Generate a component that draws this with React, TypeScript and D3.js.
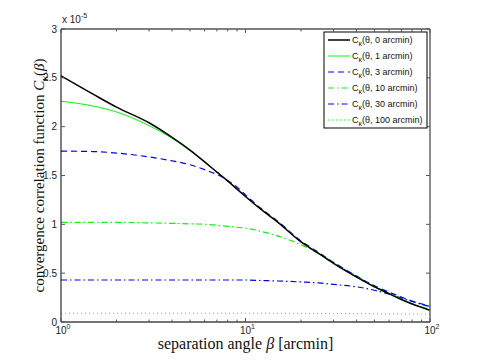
import React, { useEffect, useRef } from 'react';
import * as d3 from 'd3';

// separation angle beta [arcmin]
const betas = [1, 1.5, 2, 3, 4, 5, 6, 7, 8, 9, 10, 12, 15, 20, 25, 30, 40, 50, 60, 70, 80, 90, 100];

// C_kappa values in units of 1e-5
const c0 = [2.52, 2.33, 2.2, 2.04, 1.89, 1.76, 1.64, 1.535, 1.445, 1.36, 1.285, 1.16, 1.02, 0.82, 0.7, 0.6, 0.46, 0.36, 0.29, 0.23, 0.185, 0.15, 0.12];
const c1 = [2.26, 2.21, 2.15, 2.01, 1.88, 1.755, 1.64, 1.535, 1.445, 1.36, 1.285, 1.16, 1.02, 0.82, 0.7, 0.6, 0.46, 0.36, 0.29, 0.23, 0.185, 0.15, 0.125];
const c3 = [1.75, 1.745, 1.73, 1.69, 1.65, 1.61, 1.56, 1.51, 1.45, 1.38, 1.3, 1.17, 1.03, 0.83, 0.71, 0.61, 0.47, 0.37, 0.305, 0.255, 0.215, 0.185, 0.16];
const c10 = [1.02, 1.02, 1.02, 1.015, 1.01, 1.005, 1.0, 0.99, 0.98, 0.97, 0.96, 0.93, 0.88, 0.79, 0.7, 0.61, 0.47, 0.365, 0.295, 0.235, 0.19, 0.155, 0.13];
const c30 = [0.43, 0.43, 0.43, 0.43, 0.43, 0.43, 0.43, 0.43, 0.43, 0.43, 0.43, 0.425, 0.42, 0.41, 0.4, 0.385, 0.36, 0.325, 0.285, 0.245, 0.21, 0.18, 0.16];
const c100 = [0.09, 0.09, 0.09, 0.09, 0.09, 0.09, 0.09, 0.09, 0.09, 0.09, 0.09, 0.09, 0.089, 0.088, 0.088, 0.087, 0.086, 0.085, 0.084, 0.083, 0.082, 0.081, 0.08];

const seriesLabels = ['0 arcmin', '1 arcmin', '3 arcmin', '10 arcmin', '30 arcmin', '100 arcmin'];
const yTicks = [0, 0.5, 1, 1.5, 2, 2.5, 3];
const xTicks = [1, 10, 100];

const series = [
  { name: seriesLabels[0], values: c0, color: '#000', dash: null, width: 1.5 },
  { name: seriesLabels[1], values: c1, color: '#00ff00', dash: null, width: 1 },
  { name: seriesLabels[2], values: c3, color: '#0000ff', dash: '6,4', width: 1.2 },
  { name: seriesLabels[3], values: c10, color: '#00ff00', dash: '6,3,1.5,3', width: 1.2 },
  { name: seriesLabels[4], values: c30, color: '#0000ff', dash: '6,3,1.5,3', width: 1.2 },
  { name: seriesLabels[5], values: c100, color: '#00ff00', dash: '1,3', width: 1 },
];

export default function App() {
  const ref = useRef<SVGSVGElement>(null);

  useEffect(() => {
    const svg = d3.select(ref.current);
    svg.selectAll('*').remove();

    const left = 61, right = 430, top = 29, bottom = 322;
    const x = d3.scaleLog().domain([1, 100]).range([left, right]);
    const y = d3.scaleLinear().domain([0, 3]).range([bottom, top]);

    svg.append('rect').attr('width', 477).attr('height', 364).attr('fill', '#fff');

    // curves
    const line = d3.line<number>()
      .x((d, i) => x(betas[i]))
      .y((d) => y(d))
      .curve(d3.curveMonotoneX);

    series.slice().reverse().forEach((s) => {
      svg.append('path')
        .attr('d', line(s.values))
        .attr('fill', 'none')
        .attr('stroke', s.color)
        .attr('stroke-width', s.width)
        .attr('stroke-dasharray', s.dash);
    });

    // box
    const ax = svg.append('g').attr('stroke', '#000').attr('stroke-width', 1);
    ax.append('line').attr('x1', left).attr('x2', left).attr('y1', top).attr('y2', bottom);
    ax.append('line').attr('x1', left).attr('x2', right).attr('y1', top).attr('y2', top);
    ax.append('line').attr('x1', right).attr('x2', right).attr('y1', top).attr('y2', bottom).attr('stroke', '#666').attr('stroke-width', 1.5);
    ax.append('line').attr('x1', left).attr('x2', right).attr('y1', bottom).attr('y2', bottom).attr('stroke', '#444').attr('stroke-width', 1.5);

    // y ticks
    const tk = 4;
    yTicks.forEach((t) => {
      ax.append('line').attr('x1', left).attr('x2', left + tk).attr('y1', y(t)).attr('y2', y(t)).attr('stroke', '#555');
      ax.append('line').attr('x1', right).attr('x2', right - tk).attr('y1', y(t)).attr('y2', y(t)).attr('stroke', '#555');
    });
    svg.append('g')
      .selectAll('text')
      .data(yTicks)
      .join('text')
      .attr('x', left - 4)
      .attr('y', (d) => y(d))
      .attr('dy', '0.35em')
      .attr('text-anchor', 'end')
      .style('font', '10px "Liberation Sans", sans-serif')
      .attr('fill', '#222')
      .text((d) => String(d));

    // x ticks, with log minor ticks
    const minor = x.ticks();
    minor.forEach((t) => {
      const major = xTicks.includes(t);
      const len = major ? tk : 2.5;
      ax.append('line').attr('x1', x(t)).attr('x2', x(t)).attr('y1', bottom).attr('y2', bottom - len).attr('stroke', '#555');
      ax.append('line').attr('x1', x(t)).attr('x2', x(t)).attr('y1', top).attr('y2', top + len).attr('stroke', '#555');
    });
    const xg = svg.append('g')
      .style('font', '10px "Liberation Sans", sans-serif')
      .attr('fill', '#222');
    xg.selectAll('text.base')
      .data(xTicks)
      .join('text')
      .attr('class', 'base')
      .attr('x', (d) => x(d))
      .attr('y', bottom + 12)
      .attr('text-anchor', 'middle')
      .text('10');
    xg.selectAll('text.exp')
      .data(xTicks)
      .join('text')
      .attr('class', 'exp')
      .attr('x', (d) => x(d) + 5.5)
      .attr('y', bottom + 7)
      .style('font-size', '7px')
      .text((d) => String(Math.round(Math.log10(d))));

    // exponent
    const ex = svg.append('text')
      .attr('x', left + 1)
      .attr('y', top - 6)
      .style('font', '10px "Liberation Sans", sans-serif')
      .attr('fill', '#222');
    ex.append('tspan').text('x 10');
    ex.append('tspan').attr('dy', -5).style('font-size', '7px').text('-5');

    // axis labels
    const xlab = svg.append('text')
      .attr('x', (left + right) / 2)
      .attr('y', 349)
      .attr('text-anchor', 'middle')
      .style('font', '16px "Liberation Serif", serif')
      .attr('fill', '#111');
    xlab.append('tspan').text('separation angle ');
    xlab.append('tspan').style('font-style', 'italic').text('β');
    xlab.append('tspan').text(' [arcmin]');

    const ylab = svg.append('text')
      .attr('transform', `translate(44,${(top + bottom) / 2}) rotate(-90)`)
      .attr('text-anchor', 'middle')
      .style('font', '15px "Liberation Serif", serif')
      .attr('fill', '#111');
    ylab.append('tspan').text('convergence correlation function ');
    ylab.append('tspan').style('font-style', 'italic').text('C');
    ylab.append('tspan').attr('dy', 4).style('font-size', '10px').style('font-style', 'italic').text('κ');
    ylab.append('tspan').attr('dy', -4).text('(');
    ylab.append('tspan').style('font-style', 'italic').text('β');
    ylab.append('tspan').text(')');

    // legend
    const lg = svg.append('g');
    lg.append('rect')
      .attr('x', 324).attr('y', 32).attr('width', 103).attr('height', 96)
      .attr('fill', '#fff').attr('stroke', '#000').attr('stroke-width', 1);
    series.forEach((s, i) => {
      const ly = 40 + i * 16;
      lg.append('line')
        .attr('x1', 328).attr('x2', 350).attr('y1', ly).attr('y2', ly)
        .attr('stroke', s.color)
        .attr('stroke-width', s.width)
        .attr('stroke-dasharray', s.dash);
      const t = lg.append('text')
        .attr('x', 352).attr('y', ly + 3)
        .style('font', '9px "Liberation Sans", sans-serif')
        .attr('fill', '#111');
      t.append('tspan').text('C');
      t.append('tspan').attr('dy', 3).style('font-size', '7px').text('κ');
      t.append('tspan').attr('dy', -3).text(`(θ, ${s.name})`);
    });
  }, []);

  return (
    <svg
      ref={ref}
      width={477}
      height={364}
      style={{ position: 'absolute', left: 0, top: 0 }}
    />
  );
}
